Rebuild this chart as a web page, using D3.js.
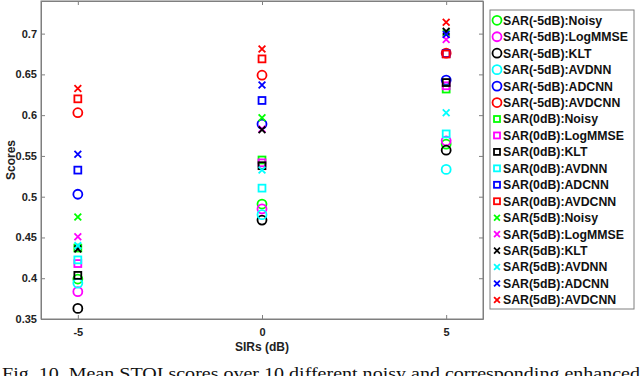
<!DOCTYPE html>
<html><head><meta charset="utf-8">
<script src="https://cdn.jsdelivr.net/npm/d3@7"></script>
<style>body{margin:0;background:#fff}svg{display:block}</style>
</head><body>
<script>
const sirs = [-5, 0, 5];
const methods = ["Noisy", "LogMMSE", "KLT", "AVDNN", "ADCNN", "AVDCNN"];
const colors = ["#00ff00", "#ff00ff", "#000000", "#00ffff", "#0000ff", "#ff0000"];
const sarLabels = ["-5dB", "0dB", "5dB"];
const markers = ["circle", "square", "cross"];
// SAR -5dB (circles)
const sarM5 = [
  [0.399, 0.491, 0.5645],
  [0.3835, 0.485, 0.5685],
  [0.363, 0.4713, 0.557],
  [0.394, 0.478, 0.5335],
  [0.503, 0.589, 0.643],
  [0.603, 0.649, 0.676]
];
// SAR 0dB (squares)
const sar0 = [
  [0.437, 0.545, 0.632],
  [0.418, 0.5415, 0.636],
  [0.4035, 0.538, 0.640],
  [0.4225, 0.5105, 0.577],
  [0.5326, 0.618, 0.6755],
  [0.620, 0.669, 0.675]
];
// SAR 5dB (crosses)
const sar5 = [
  [0.475, 0.5967, 0.701],
  [0.451, 0.583, 0.6928],
  [0.436, 0.582, 0.703],
  [0.44, 0.5326, 0.603],
  [0.552, 0.637, 0.699],
  [0.6327, 0.681, 0.714]
];
const yTicks = [0.35, 0.4, 0.45, 0.5, 0.55, 0.6, 0.65, 0.7];
const xTicks = [-5, 0, 5];
const caption = "Fig. 10. Mean STOI scores over 10 different noisy and corresponding enhanced";

const W = 640, H = 376;
const svg = d3.select("body").append("svg").attr("width", W).attr("height", H);
const L = 41, R = 483, T = 1, B = 319;
const x = d3.scaleLinear().domain([-6, 6]).range([L, R]);
const y = d3.scaleLinear().domain([0.35, 0.74]).range([B, T]);
const axisColor = "#7f7f7f";
const tickFont = "'Liberation Sans', Arial, sans-serif";

// frame
svg.append("rect").attr("x", L).attr("y", T).attr("width", R - L).attr("height", B - T)
  .attr("fill", "#fff").attr("stroke", axisColor).attr("stroke-width", 1);

const yAxis = d3.axisLeft(y).tickValues(yTicks).tickSizeInner(-4).tickSizeOuter(0).tickPadding(4)
  .tickFormat(d => String(+d.toFixed(2)));
const gy = svg.append("g").attr("transform", `translate(${L},0)`).call(yAxis);
const gyr = svg.append("g").attr("transform", `translate(${R},0)`)
  .call(d3.axisRight(y).tickValues(yTicks).tickSizeInner(-4).tickSizeOuter(0).tickFormat(""));
const xAxis = d3.axisBottom(x).tickValues(xTicks).tickSizeInner(-4).tickSizeOuter(0).tickPadding(9)
  .tickFormat(d => String(d));
const gx = svg.append("g").attr("transform", `translate(0,${B})`).call(xAxis);
const gxt = svg.append("g").attr("transform", `translate(0,${T})`)
  .call(d3.axisTop(x).tickValues(xTicks).tickSizeInner(-4).tickSizeOuter(0).tickFormat(""));
[gy, gyr, gx, gxt].forEach(g => {
  g.select(".domain").attr("stroke", axisColor);
  g.selectAll(".tick line").attr("stroke", axisColor);
  g.selectAll("text").attr("font-family", tickFont).attr("font-weight", "bold")
    .attr("font-size", 11).attr("fill", "#222");
});

// axis labels
svg.append("text").attr("x", (L + R) / 2).attr("y", 351).attr("text-anchor", "middle")
  .attr("font-family", tickFont).attr("font-weight", "bold").attr("font-size", 12).attr("fill", "#222")
  .text("SIRs (dB)");
svg.append("text").attr("transform", `translate(15,${(T + B) / 2}) rotate(-90)`).attr("text-anchor", "middle")
  .attr("font-family", tickFont).attr("font-weight", "bold").attr("font-size", 12).attr("fill", "#222")
  .text("Scores");

function drawMarker(g, type, cx, cy, color, s) {
  if (type === "circle") {
    g.append("circle").attr("cx", cx).attr("cy", cy).attr("r", s * 0.6)
      .attr("fill", "none").attr("stroke", color).attr("stroke-width", 1.8);
  } else if (type === "square") {
    const h = s * 0.46;
    g.append("rect").attr("x", cx - h).attr("y", cy - h).attr("width", 2 * h).attr("height", 2 * h)
      .attr("fill", "none").attr("stroke", color).attr("stroke-width", 1.8);
  } else {
    const h = s * 0.45;
    g.append("path").attr("d", `M${cx - h},${cy - h}L${cx + h},${cy + h}M${cx - h},${cy + h}L${cx + h},${cy - h}`)
      .attr("fill", "none").attr("stroke", color).attr("stroke-width", 1.8);
  }
}

const groups = [sarM5, sar0, sar5];
const plot = svg.append("g");
groups.forEach((grp, gi) => {
  grp.forEach((vals, mi) => {
    vals.forEach((v, k) => drawMarker(plot, markers[gi], x(sirs[k]), y(v), colors[mi], 7.5));
  });
});

// legend
const lg = svg.append("g");
const LX = 490, LY = 10, LW = 144, LH = 299;
lg.append("rect").attr("x", LX).attr("y", LY).attr("width", LW).attr("height", LH)
  .attr("fill", "#fff").attr("stroke", axisColor).attr("stroke-width", 1);
let row = 0;
groups.forEach((grp, gi) => {
  methods.forEach((m, mi) => {
    const cy = 20.3 + row * 16.45;
    drawMarker(lg, markers[gi], 497, cy, colors[mi], gi === 0 ? 7.5 : 6.5);
    lg.append("text").attr("x", 503).attr("y", cy).attr("dy", "0.36em")
      .attr("font-family", tickFont).attr("font-weight", "bold").attr("font-size", 12.3).attr("fill", "#111")
      .text(`SAR(${sarLabels[gi]}):${m}`);
    row++;
  });
});

// caption
svg.append("text").attr("x", 2).attr("y", 379).attr("font-family", "'Liberation Serif', 'Times New Roman', serif")
  .attr("font-size", 17).attr("fill", "#111").attr("textLength", 638).attr("lengthAdjust", "spacingAndGlyphs")
  .text(caption);
</script>
</body></html>
